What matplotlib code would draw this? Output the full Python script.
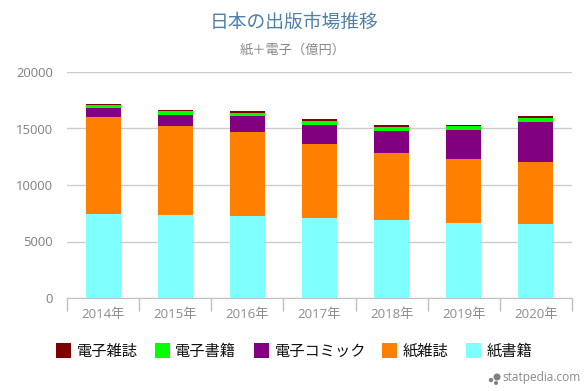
import matplotlib
matplotlib.use("Agg")
import matplotlib.pyplot as plt
import numpy as np

plt.rcParams['font.family'] = ['Noto Sans CJK JP', 'DejaVu Sans']

years = ['2014年', '2015年', '2016年', '2017年', '2018年', '2019年', '2020年']
paper_books = [7470, 7350, 7300, 7080, 6920, 6650, 6590]
paper_mags = [8530, 7830, 7350, 6510, 5880, 5680, 5470]
e_comics = [840, 1040, 1420, 1720, 2005, 2540, 3540]
e_books = [240, 310, 330, 380, 355, 380, 360]
e_mags = [90, 110, 150, 130, 180, 60, 170]
yticks = [0, 5000, 10000, 15000, 20000]

W, H = 586, 391
fig = plt.figure(figsize=(W / 100, H / 100), dpi=100)
ax = fig.add_axes([67 / W, 1 - 298 / H, (572 - 67) / W, (298 - 72) / H])

# stack from the bottom up, same order as the chart
series = [
    (paper_books, '#80ffff', '紙書籍'),
    (paper_mags, '#ff8000', '紙雑誌'),
    (e_comics, '#800080', '電子コミック'),
    (e_books, '#00ff00', '電子書籍'),
    (e_mags, '#800000', '電子雑誌'),
]
x = np.arange(len(years))
bottom = np.zeros(len(years))
for values, color, name in series:
    ax.bar(x, values, width=0.485, bottom=bottom, color=color, linewidth=0, zorder=3)
    bottom += np.array(values)

ax.set_xlim(-0.5, len(years) - 0.5)
ax.set_ylim(0, 20000)
ax.set_yticks(yticks)
ax.set_yticklabels([str(v) for v in yticks], family=['Open Sans'], fontsize=9.4, color='#808080')
ax.set_xticks(x)
ax.set_xticklabels(years, family=['Open Sans', 'Noto Sans CJK JP'], fontsize=9.5, color='#8c8c8c')
ax.tick_params(axis='y', length=0, pad=10)
ax.tick_params(axis='x', length=0, pad=7.5)

# ticks sit on the category edges
edges = np.arange(len(years) + 1) - 0.5
ax.set_xticks(edges, minor=True)
ax.tick_params(axis='x', which='minor', length=9, width=1, color='#c0c0c0')

ax.grid(axis='y', color='#cccccc', linewidth=1, zorder=0)
ax.set_axisbelow(True)
for side in ['top', 'right', 'left']:
    ax.spines[side].set_visible(False)
ax.spines['bottom'].set_color('#c0c0c0')

fig.text(294 / W, 1 - 22 / H, '日本の出版市場推移', fontsize=13.5, color='#4f81a8',
         ha='center', va='center')
fig.text(293 / W, 1 - 50 / H, '紙＋電子（億円）', fontsize=9.5, color='#888888',
         ha='center', va='center')

# legend, top of the stack first
label_x = [77, 175, 275, 403, 487]
box_x = [56, 155, 254, 382, 466]
for (values, color, name), bx, lx in zip(series[::-1], box_x, label_x):
    fig.patches.append(plt.Rectangle((bx / W, 1 - 358 / H), 15 / W, 15 / H, facecolor=color,
                                     transform=fig.transFigure, figure=fig))
    fig.text(lx / W, 1 - 351 / H, name, fontsize=11, color='#111111', ha='left', va='center')

# statpedia mark
fig.text(502 / W, 1 - 378 / H, 'statpedia.com', family=['Open Sans'], fontsize=8.6,
         color='#8a8a8a', ha='left', va='center')
for cx, cy, r in [(491, 380, 1.5), (497, 377, 2.8), (496, 383, 1.3)]:
    fig.patches.append(plt.Circle((cx, H - cy), r, color='#808080',
                                  transform=None, figure=fig))

fig.savefig('out.png', dpi=100, facecolor='white')
